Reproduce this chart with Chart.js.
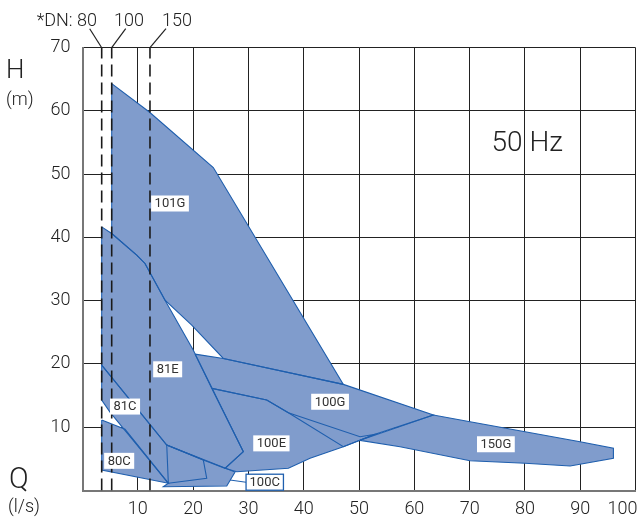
<!DOCTYPE html>
<html>
<head>
<meta charset="utf-8">
<script src="https://cdn.jsdelivr.net/npm/chart.js@4.4.0/dist/chart.umd.min.js"></script>
<style>
html, body { margin: 0; padding: 0; background: #fff; }
#wrap { width: 641px; height: 518px; position: relative; }
</style>
</head>
<body>
<div id="wrap"><canvas id="chart"></canvas></div>
<script>
// ticks
const xTickValues = [0, 10, 20, 30, 40, 50, 60, 70, 80, 90, 100];
const yTickValues = [0, 10, 20, 30, 40, 50, 60, 70];

// pump ranges, Q (l/s) / H (m)
const p101G = [[5.28, 64.33], [12.08, 59.84], [23.65, 51.06], [47.16, 16.78], [25.46, 20.88], [19.75, 26.15], [14.92, 30.09], [11.30, 35.89], [9.80, 37.20], [5.28, 40.63]];
const p81E = [[3.47, 41.67], [5.28, 40.63], [9.80, 37.20], [11.30, 35.89], [14.92, 30.09], [20.04, 22.17], [29.08, 6.13], [25.77, 3.51], [21.84, 4.82], [15.23, 7.19], [3.47, 19.83]];
const p81C = [[3.47, 19.83], [15.23, 7.19], [21.84, 4.82], [22.46, 1.93], [15.52, 1.14], [4.97, 12.40], [3.47, 14.30]];
const p80C = [[3.47, 11.14], [7.69, 9.67], [15.52, 1.14], [3.47, 3.24]];
const p100C = [[15.23, 7.19], [27.58, 2.92], [26.08, 0.71], [14.61, 0.60], [15.52, 1.14]];
const p100E = [[23.36, 16.15], [33.31, 14.30], [37.22, 12.29], [50.18, 8.50], [52.89, 8.88], [47.16, 6.92], [41.14, 5.09], [37.22, 3.51], [27.88, 2.97], [25.77, 3.51], [29.08, 6.13]];
const p100G = [[20.34, 21.56], [25.46, 20.88], [47.16, 16.78], [63.44, 11.93], [52.89, 8.88], [47.16, 6.92], [37.22, 12.29], [33.31, 14.30], [23.36, 16.15]];
const p150G = [[50.18, 7.93], [63.44, 11.93], [70.07, 10.87], [80.02, 9.29], [89.96, 7.71], [95.99, 6.67], [95.99, 5.09], [88.16, 3.87], [80.02, 4.30], [70.07, 4.71], [57.41, 6.92]];

const polygons = [p101G, p81E, p81C, p80C, p100C, p100E, p100G, p150G];

// labels
const labelNames = ['101G', '81E', '81C', '80C', '100E', '100G', '150G', '100C'];
const labelX = [15.82, 15.4, 7.69, 6.63, 34.15, 44.76, 74.74, 32.95];
const labelY = [45.37, 19.16, 13.27, 4.69, 7.45, 14.03, 7.31, 1.31];
const leader100C = [26.67, 1.66];

// pipe sizes
const dnNames = ['80', '100', '150'];
const dnX = [3.47, 5.28, 12.2];

const fillColor = 'rgb(128,156,204)';
const edgeColor = '#1f5fae';
const font = 'Roboto, "Liberation Sans", sans-serif';

function pts(p) {
    return p.map(v => ({x: v[0], y: v[1]}));
}

// borderDash keeps chart.js off its fast path (points are not sorted by x)
let datasets = [];
for (let p of polygons) {
    datasets.push({
        data: pts(p), fill: 'shape', backgroundColor: fillColor,
        borderWidth: 0, borderDash: [1000, 0], pointRadius: 0, order: 3
    });
    datasets.push({
        data: pts(p.concat([p[0]])), fill: false, borderColor: edgeColor,
        borderWidth: 1.1, borderDash: [1000, 0], pointRadius: 0, order: 2
    });
}
for (let d of dnX) {
    datasets.push({
        data: [{x: d, y: 0}, {x: d, y: 70}], fill: false, borderColor: '#1a1a1a',
        borderWidth: 1.6, borderDash: [12, 6], pointRadius: 0, order: 1
    });
}

const textPlugin = {
    id: 'texts',
    afterDraw(chart) {
        const {ctx, chartArea: a, scales: {x, y}} = chart;
        ctx.save();

        ctx.font = '13px ' + font;
        ctx.textAlign = 'center';
        ctx.textBaseline = 'middle';
        labelNames.forEach((t, i) => {
            const cx = x.getPixelForValue(labelX[i]);
            const cy = y.getPixelForValue(labelY[i]);
            const w = ctx.measureText(t).width + 7, h = 16;
            if (t === '100C') {
                ctx.strokeStyle = edgeColor;
                ctx.lineWidth = 1.1;
                ctx.beginPath();
                ctx.moveTo(cx - w / 2, cy);
                ctx.lineTo(x.getPixelForValue(leader100C[0]), y.getPixelForValue(leader100C[1]));
                ctx.stroke();
            }
            ctx.fillStyle = '#fff';
            ctx.fillRect(cx - w / 2, cy - h / 2, w, h);
            if (t === '100C') {
                ctx.strokeStyle = edgeColor;
                ctx.lineWidth = 1.3;
                ctx.strokeRect(cx - w / 2, cy - h / 2, w, h);
            }
            ctx.fillStyle = '#333';
            ctx.fillText(t, cx, cy + 0.5);
        });

        ctx.fillStyle = '#222';
        ctx.font = '300 28px ' + font;
        ctx.fillText('50 Hz', x.getPixelForValue(80.4), y.getPixelForValue(54.7));

        ctx.textAlign = 'left';
        ctx.textBaseline = 'alphabetic';
        ctx.font = '300 26px ' + font;
        ctx.fillText('H', 6, 78);
        ctx.font = '300 18px ' + font;
        ctx.fillText('(m)', 6, 105);
        ctx.font = '300 29px ' + font;
        ctx.fillText('Q', 9, 488);
        ctx.font = '300 18px ' + font;
        ctx.fillText('(l/s)', 8, 512);

        // DN leaders
        const offs = [-12, 14, 16];
        const tx = [97, 129, 177];
        ctx.strokeStyle = '#222';
        ctx.lineWidth = 1.2;
        dnX.forEach((d, i) => {
            const px = x.getPixelForValue(d);
            ctx.beginPath();
            ctx.moveTo(px, a.top);
            ctx.lineTo(px + offs[i], a.top - 19);
            ctx.stroke();
        });
        ctx.font = '300 18px ' + font;
        ctx.textAlign = 'right';
        ctx.fillText('*DN: ' + dnNames[0], tx[0], 26);
        ctx.textAlign = 'center';
        ctx.fillText(dnNames[1], tx[1], 26);
        ctx.fillText(dnNames[2], tx[2], 26);
        ctx.restore();
    }
};

new Chart(document.getElementById('chart'), {
    type: 'line',
    data: {datasets: datasets},
    options: {
        responsive: true,
        maintainAspectRatio: false,
        animation: false,
        devicePixelRatio: 1,
        events: [],
        layout: {padding: {top: 47.7, right: 5.4, left: 0, bottom: 0}},
        plugins: {legend: {display: false}, tooltip: {enabled: false}},
        elements: {line: {tension: 0}},
        scales: {
            x: {
                type: 'linear', min: 0, max: 100, z: 1,
                afterBuildTicks: s => { s.ticks = xTickValues.map(v => ({value: v})); },
                afterFit: s => { s.height = 27.5; s.paddingLeft = 0; s.paddingRight = 0; },
                grid: {color: '#222', lineWidth: 1, drawTicks: false},
                border: {color: '#777', width: 2},
                ticks: {
                    padding: 8, color: '#222', font: {size: 18, weight: 300, family: font},
                    maxRotation: 0, autoSkip: false,
                    callback: v => v === 0 ? '' : (v === 100 ? '100      ' : String(v))
                }
            },
            y: {
                min: 0, max: 70, z: 1,
                afterBuildTicks: s => { s.ticks = yTickValues.map(v => ({value: v})); },
                afterFit: s => { s.width = 82.5; s.paddingTop = 0; s.paddingBottom = 0; },
                grid: {color: '#222', lineWidth: 1, drawTicks: false},
                border: {color: '#777', width: 2},
                ticks: {
                    padding: 12, color: '#222', font: {size: 18, weight: 300, family: font},
                    callback: v => v === 0 ? '' : String(v)
                }
            }
        }
    },
    plugins: [textPlugin]
});
</script>
</body>
</html>
